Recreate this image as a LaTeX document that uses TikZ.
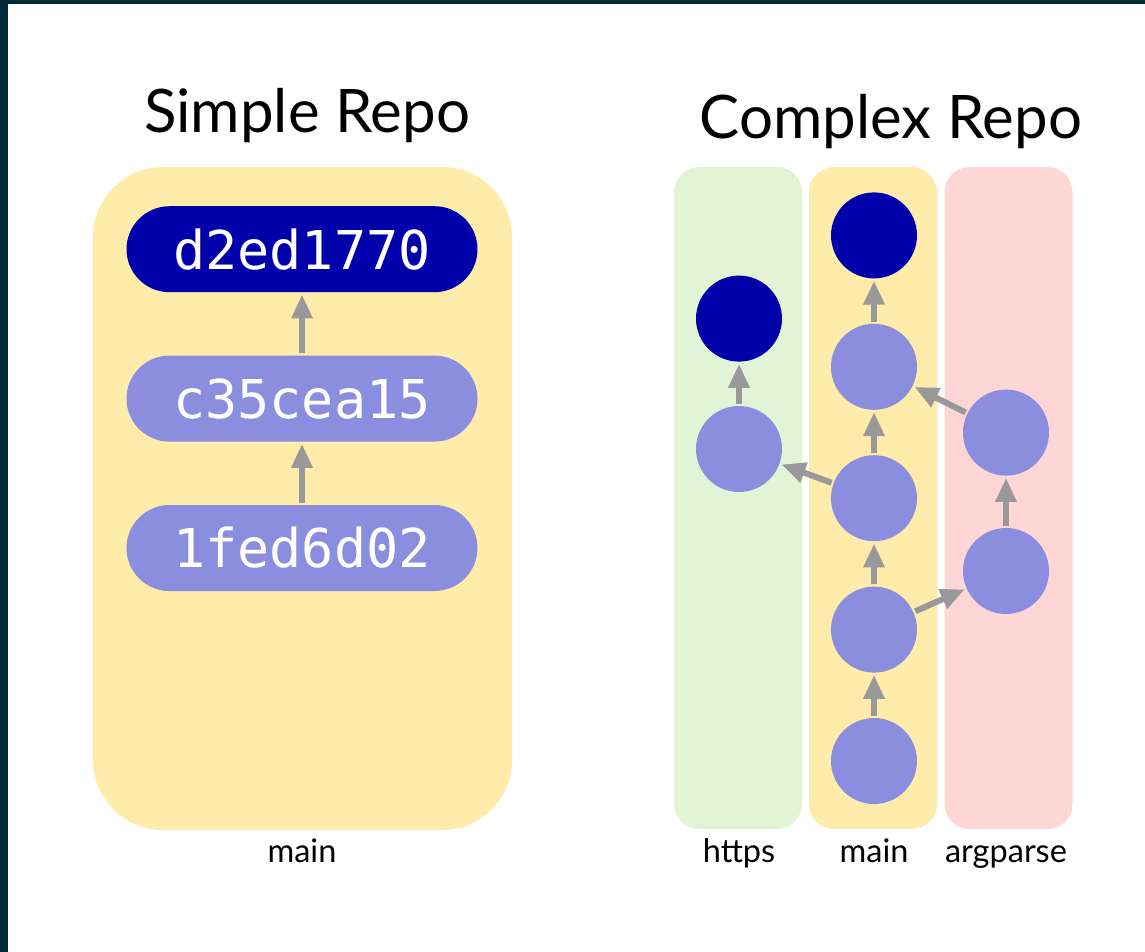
\documentclass[tikz,border=0pt]{standalone}
\usepackage{fontspec}
\setmainfont{Lato}
\setmonofont{DejaVu Sans Mono}
\usetikzlibrary{arrows.meta,positioning}
\definecolor{frameteal}{RGB}{0,42,56}
\definecolor{mainyellow}{RGB}{255,236,170}
\definecolor{httpsgreen}{RGB}{226,243,214}
\definecolor{argpink}{RGB}{255,214,214}
\definecolor{commitlight}{RGB}{139,141,222}
\definecolor{commitdark}{RGB}{0,0,170}
\definecolor{arrowgray}{RGB}{153,153,153}

\begin{document}
\begin{tikzpicture}[x=1pt, y=-1pt,
  reponame/.style={font=\fontsize{60}{63}\selectfont, anchor=base, inner sep=0pt},
  branch/.style={font=\fontsize{32.5}{35}\selectfont, anchor=base, inner sep=0pt},
  lane/.style={rounded corners=25pt, minimum width=128pt, minimum height=662pt, inner sep=0pt},
  pill/.style={fill=commitlight, rounded corners=43pt, minimum width=351pt, minimum height=86pt, inner sep=0pt, text=white, font=\ttfamily\fontsize{53.5}{56}\selectfont},
  headpill/.style={pill, fill=commitdark},
  commit/.style={circle, fill=commitlight, minimum size=86pt, inner sep=0pt},
  headcommit/.style={commit, fill=commitdark},
  ar/.style={-{Triangle[length=24pt,width=20pt]}, line width=6pt, draw=arrowgray, shorten >=2pt, shorten <=2pt}]
\useasboundingbox (0,0) rectangle (1145,952);
\fill[frameteal] (0,0) rectangle (1145,952);
\fill[white] (8,4) rectangle (1145,952);

% simple repo
\node[reponame] (simpletitle) at (307,133) {Simple Repo};
\node[fill=mainyellow, rounded corners=70pt, minimum width=419pt, minimum height=663pt, inner sep=0pt] (simplebox) at (302.5,498.5) {};
\node[pill] (p1) at (302,548) {1fed6d02};
\node[pill, above=63pt of p1] (p2) {c35cea15};
\node[headpill, above=63pt of p2] (p3) {d2ed1770};
\draw[ar] (p1) -- (p2); \draw[ar] (p2) -- (p3);
\node[branch] (simplemain) at (302,862) {main};

% complex repo
\node[reponame] (complextitle) at (891,139) {Complex Repo};
\node[lane, fill=httpsgreen] (lhttps) at (738,498) {};
\node[lane, fill=mainyellow] (lmain) at (873,498) {};
\node[lane, fill=argpink] (largparse) at (1008.5,498) {};

\node[commit] (m1) at (874,761) {};
\node[commit, above=45pt of m1] (m2) {};
\node[commit, above=45pt of m2] (m3) {};
\node[commit, above=45pt of m3] (m4) {};
\node[headcommit, above=45pt of m4] (m5) {};
\node[commit] (h1) at (739,449) {};
\node[headcommit, above=44pt of h1] (h2) {};
\node[commit] (a1) at (1006,571) {};
\node[commit, above=52pt of a1] (a2) {};

\draw[ar] (m1) -- (m2); \draw[ar] (m2) -- (m3); \draw[ar] (m3) -- (m4);
\draw[ar] (m4) -- (m5); \draw[ar] (h1) -- (h2); \draw[ar] (a1) -- (a2);
\draw[ar] (m3) -- (h1); \draw[ar] (m2) -- (a1); \draw[ar] (a2) -- (m4);

\node[branch] (bhttps) at (739,862) {https};
\node[branch] (bmain) at (874,862) {main};
\node[branch] (bargparse) at (1006,862) {argparse};
\end{tikzpicture}
\end{document}
